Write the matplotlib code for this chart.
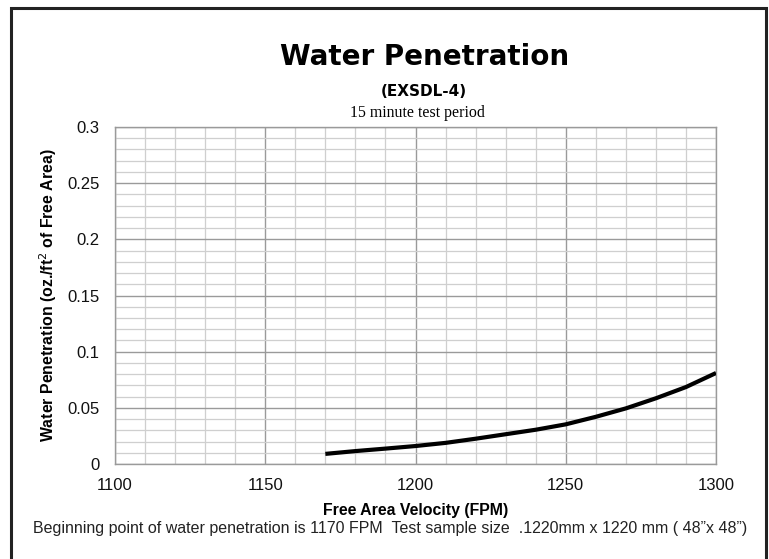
import numpy as np
import matplotlib.pyplot as plt
from matplotlib.patches import Rectangle
from matplotlib.ticker import MultipleLocator

# Data
velocity = [1170, 1180, 1190, 1200, 1210, 1220, 1230, 1240, 1250,
            1260, 1270, 1280, 1290, 1300]
penetration = [0.009, 0.0115, 0.0137, 0.016, 0.0188, 0.0225, 0.0265, 0.0305,
               0.0353, 0.042, 0.0495, 0.0585, 0.0685, 0.081]

x_ticks = [1100, 1150, 1200, 1250, 1300]
y_ticks = [0, 0.05, 0.1, 0.15, 0.2, 0.25, 0.3]
y_tick_labels = ['0', '0.05', '0.1', '0.15', '0.2', '0.25', '0.3']

plt.rcParams['font.family'] = ['Liberation Sans', 'DejaVu Sans']

fig = plt.figure(figsize=(7.69, 5.59), dpi=100)
ax = fig.add_axes([115/769, 1 - 464/559, (716 - 115)/769, (464 - 127)/559])

# outer frame (open at the bottom edge of the picture)
frame = Rectangle((11/769, -0.05), (766 - 11)/769, 1.05 - 8/559,
                  transform=fig.transFigure, fill=False,
                  edgecolor='#222222', linewidth=2.2, clip_on=False)
fig.patches.append(frame)

ax.plot(velocity, penetration, color='black', linewidth=3.0,
        solid_capstyle='butt', solid_joinstyle='round', zorder=5)

ax.set_xlim(1100, 1300)
ax.set_ylim(0, 0.3)
ax.set_xticks(x_ticks)
ax.set_xticklabels([str(v) for v in x_ticks])
ax.set_yticks(y_ticks)
ax.set_yticklabels(y_tick_labels)
ax.xaxis.set_minor_locator(MultipleLocator(10))
ax.yaxis.set_minor_locator(MultipleLocator(0.01))

ax.grid(which='minor', color='#cfcfcf', linewidth=0.9)
ax.grid(which='major', color='#9a9a9a', linewidth=1.0)
ax.set_axisbelow(True)
ax.tick_params(which='both', length=0)
ax.tick_params(axis='x', labelsize=12, pad=10, colors='#111111')
ax.tick_params(axis='y', labelsize=12, pad=11, colors='#111111')
for s in ax.spines.values():
    s.set_color('#9a9a9a')
    s.set_linewidth(1.0)

ax.set_xlabel('Free Area Velocity (FPM)', fontsize=11.4, fontweight='bold', labelpad=7)
ax.set_ylabel('Water Penetration (oz./ft$^2$ of Free Area)', fontsize=11.4,
              fontweight='bold', labelpad=6)

fig.text(425/769, 1 - 57/559, 'Water Penetration', ha='center', va='center',
         fontsize=20, fontweight='bold', family=['DejaVu Sans'])
fig.text(424/769, 1 - 91/559, '(EXSDL-4)', ha='center', va='center',
         fontsize=11, fontweight='bold', family=['DejaVu Sans'])
fig.text(417/769, 1 - 113/559, '15 minute test period', ha='center', va='center',
         fontsize=11.4, family=['Liberation Serif', 'DejaVu Serif'])
fig.text(33/769, 1 - 528/559,
         'Beginning point of water penetration is 1170 FPM  Test sample size  .1220mm x 1220 mm ( 48\u201dx 48\u201d)',
         ha='left', va='center', fontsize=11.5, color='#222222')

fig.savefig('out.png', dpi=100)
